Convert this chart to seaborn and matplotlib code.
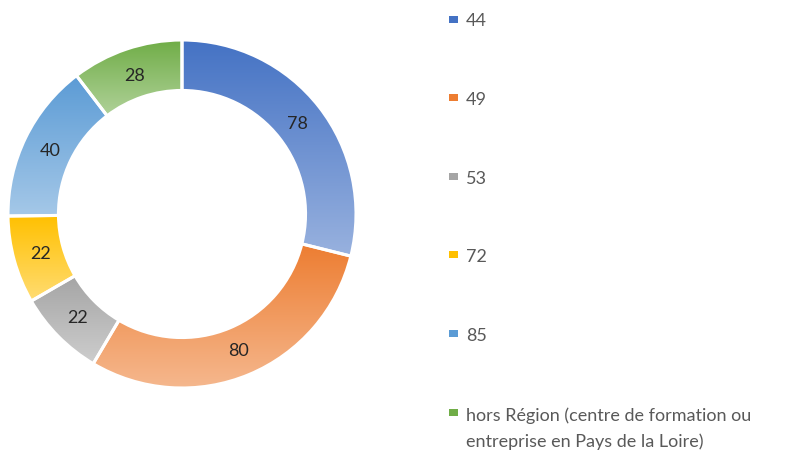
import numpy as np
import matplotlib
matplotlib.use("Agg")
import matplotlib.pyplot as plt
import seaborn as sns
from matplotlib.colors import to_rgb
from matplotlib.patches import Rectangle

# data
categories = ["44", "49", "53", "72", "85",
              "hors Région (centre de formation ou\nentreprise en Pays de la Loire)"]
values = [78, 80, 22, 22, 40, 28]
colors = ["#4472C4", "#ED7D31", "#A5A5A5", "#FFC000", "#5B9BD5", "#70AD47"]

sns.set_theme(style="white")
plt.rcParams["font.family"] = ["Lato", "DejaVu Sans"]

W, H = 797, 452
fig = plt.figure(figsize=(W / 100, H / 100), dpi=100)
# donut centre ~ (182, 215) px, radius ~174 px
ax = fig.add_axes([(182 - 174) / W, (H - 215 - 174) / H, 348 / W, 348 / H])

total = sum(values)
wedges, texts, autotexts = ax.pie(
    values, startangle=90, counterclock=False, radius=1,
    wedgeprops=dict(width=0.29, edgecolor="white", linewidth=2.2),
    autopct=lambda p: f"{round(p * total / 100):d}", pctdistance=0.845,
    textprops=dict(fontsize=13, color="#262626"))

# vertical gradient fill, base colour on top, lighter at the bottom
for w, c in zip(wedges, colors):
    bb = w.get_path().get_extents()
    top = np.array(to_rgb(c))
    bot = top + (1 - top) * 0.45
    g = np.linspace(0, 1, 256)[:, None, None]
    img = top * (1 - g) + bot * g
    im = ax.imshow(img, extent=(bb.x0, bb.x1, bb.y0, bb.y1), origin="upper",
                   aspect="auto", interpolation="bilinear", zorder=1)
    im.set_clip_path(w)
    w.set_facecolor("none")
    w.set_zorder(2)
for t in autotexts:
    t.set_zorder(3)

ax.set_xlim(-1, 1)
ax.set_ylim(-1, 1)
ax.set_aspect("equal")
ax.axis("off")

# legend on the right
step = 78.6
line_h = 28
for i, (lab, c) in enumerate(zip(categories, colors)):
    yc = 20 + i * step
    fig.patches.append(Rectangle((449 / W, 1 - (yc + 3.5) / H), 9 / W, 7 / H,
                                 transform=fig.transFigure, facecolor=c,
                                 edgecolor="none"))
    # baseline of the last line of the label
    yb = yc + 6.5 + lab.count("\n") * line_h
    fig.text(466 / W, 1 - yb / H, lab, va="baseline", ha="left",
             fontsize=13, color="#595959", linespacing=1.75)

fig.savefig("out.png", dpi=100)
